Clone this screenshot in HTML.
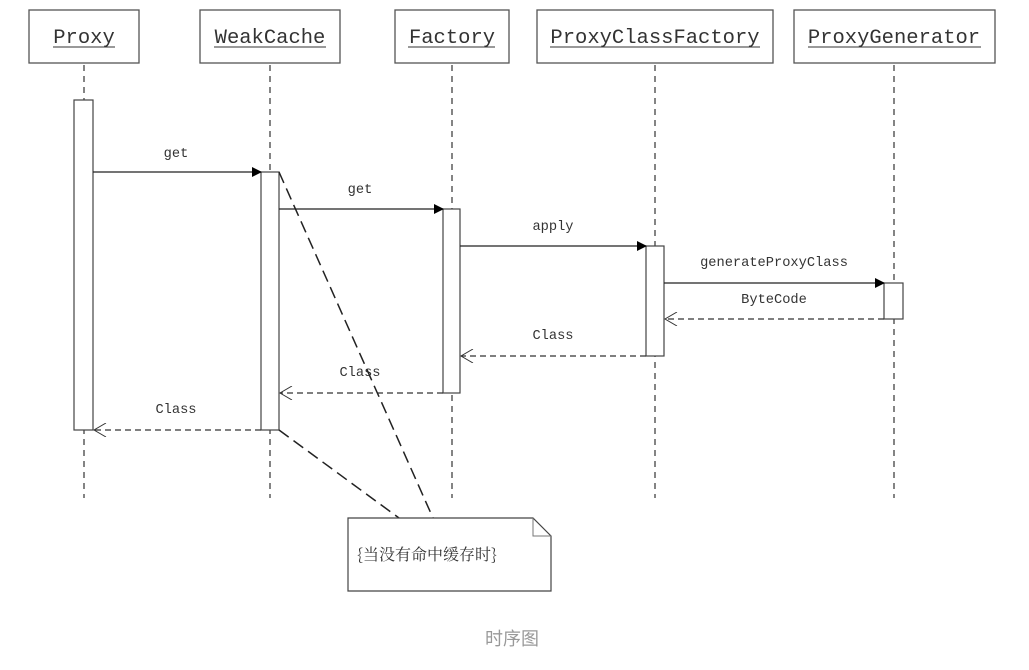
<!DOCTYPE html>
<html><head><meta charset="utf-8"><style>html,body{margin:0;padding:0;background:#fff;width:1029px;height:670px;overflow:hidden}</style></head>
<body>
<svg width="1029" height="670" xmlns="http://www.w3.org/2000/svg" font-family="'Liberation Mono','Noto Serif CJK SC',monospace">
<defs>
<marker id="f" markerWidth="10" markerHeight="10" refX="9" refY="5" orient="auto" markerUnits="userSpaceOnUse"><path d="M0,0 L10,5 L0,10 Z" fill="#000"/></marker>
<marker id="o" markerWidth="14" markerHeight="14" refX="13" refY="7" orient="auto" markerUnits="userSpaceOnUse"><path d="M1,0 L13,7 L1,14" fill="none" stroke="#333" stroke-width="1"/></marker>
</defs>
<g fill="#fff" stroke="#555" stroke-width="1.3">
<rect x="29" y="10" width="110" height="53"/>
<rect x="200" y="10" width="140" height="53"/>
<rect x="395" y="10" width="114" height="53"/>
<rect x="537" y="10" width="236" height="53"/>
<rect x="794" y="10" width="201" height="53"/>
</g>
<g font-size="20.5" fill="#333" text-anchor="middle">
<text x="84" y="43">Proxy</text>
<text x="270" y="43">WeakCache</text>
<text x="452" y="43">Factory</text>
<text x="655" y="43">ProxyClassFactory</text>
<text x="894" y="43">ProxyGenerator</text>
</g>
<g stroke="#333" stroke-width="1">
<line x1="53" y1="47" x2="115" y2="47"/>
<line x1="214" y1="47" x2="326" y2="47"/>
<line x1="408" y1="47" x2="495" y2="47"/>
<line x1="550" y1="47" x2="760" y2="47"/>
<line x1="808" y1="47" x2="981" y2="47"/>
</g>
<g stroke="#333" stroke-width="1.2" stroke-dasharray="6,5">
<line x1="84" y1="65" x2="84" y2="498"/>
<line x1="270" y1="65" x2="270" y2="498"/>
<line x1="452" y1="65" x2="452" y2="498"/>
<line x1="655" y1="65" x2="655" y2="498"/>
<line x1="894" y1="65" x2="894" y2="498"/>
</g>
<g fill="#fff" stroke="#444" stroke-width="1.2">
<rect x="74" y="100" width="19" height="330"/>
<rect x="261" y="172" width="18" height="258"/>
<rect x="443" y="209" width="17" height="184"/>
<rect x="646" y="246" width="18" height="110"/>
<rect x="884" y="283" width="19" height="36"/>
</g>
<g stroke="#222" stroke-width="1.2">
<line x1="93" y1="172" x2="261" y2="172" marker-end="url(#f)"/>
<line x1="279" y1="209" x2="443" y2="209" marker-end="url(#f)"/>
<line x1="460" y1="246" x2="646" y2="246" marker-end="url(#f)"/>
<line x1="664" y1="283" x2="884" y2="283" marker-end="url(#f)"/>
</g>
<g stroke="#333" stroke-width="1.2" stroke-dasharray="6,4" fill="none">
<line x1="884" y1="319" x2="665" y2="319" marker-end="url(#o)"/>
<line x1="646" y1="356" x2="461" y2="356" marker-end="url(#o)"/>
<line x1="443" y1="393" x2="280" y2="393" marker-end="url(#o)"/>
<line x1="261" y1="430" x2="94" y2="430" marker-end="url(#o)"/>
</g>
<g font-size="13.7" fill="#333" text-anchor="middle">
<text x="176" y="157">get</text>
<text x="360" y="193">get</text>
<text x="553" y="230">apply</text>
<text x="774" y="266">generateProxyClass</text>
<text x="774" y="303">ByteCode</text>
<text x="553" y="339">Class</text>
<text x="360" y="376">Class</text>
<text x="176" y="413">Class</text>
</g>
<g stroke="#222" stroke-width="1.5" stroke-dasharray="12,6">
<line x1="279" y1="172" x2="433" y2="518"/>
<line x1="279" y1="430" x2="399" y2="518"/>
</g>
<path d="M348,518 L533,518 L551,536 L551,591 L348,591 Z" fill="#fff" stroke="#444" stroke-width="1.2"/>
<path d="M533,518 L533,536 L551,536" fill="none" stroke="#777" stroke-width="1"/>
<text x="357" y="560" font-size="16" fill="#333" font-family="'Noto Serif CJK SC','Noto Sans CJK SC',serif">{当没有命中缓存时}</text>
<text x="512" y="645" font-size="18" fill="#999" text-anchor="middle" font-family="'Liberation Sans','Noto Sans CJK SC',sans-serif">时序图</text>
</svg>
</body></html>
